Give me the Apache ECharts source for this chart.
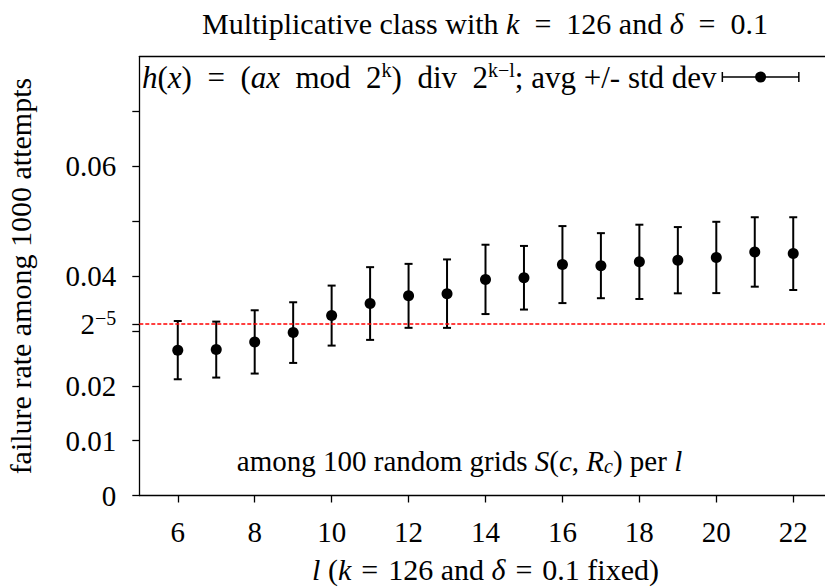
<!DOCTYPE html>
<html>
<head>
<meta charset="utf-8">
<script src="https://cdn.jsdelivr.net/npm/echarts@6/dist/echarts.min.js"></script>
<style>
html,body{margin:0;padding:0;background:#fff;}
#chart{width:825px;height:587px;}
</style>
</head>
<body>
<div id="chart"></div>
<script>
// ---- data ----
const lValues = [6, 7, 8, 9, 10, 11, 12, 13, 14, 15, 16, 17, 18, 19, 20, 21, 22];
const meanRate = [0.0265, 0.0266, 0.0280, 0.0297, 0.0328, 0.0350, 0.0364, 0.0368, 0.0394, 0.0397, 0.0421, 0.0419, 0.0426, 0.0429, 0.0434, 0.0444, 0.0441];
const stdDev = [0.00531, 0.00510, 0.00577, 0.00553, 0.00547, 0.00663, 0.00583, 0.00624, 0.00632, 0.00580, 0.00702, 0.00593, 0.00677, 0.00604, 0.00650, 0.00633, 0.00663];
const xTickValues = [6, 8, 10, 12, 14, 16, 18, 20, 22];
const yTickValues = [0, 0.01, 0.02, 0.03, 1 / 32, 0.04, 0.05, 0.06, 0.07];
const yLabelValues = [0, 0.01, 0.02, 1 / 32, 0.04, 0.06];
const thresholdValue = 1 / 32;

const FONT = '"Liberation Serif", "DejaVu Serif", serif';
const FS = 29;   // tick labels
const FT = 30;   // titles, notes
const FL = 31;   // legend
const SP = '\u2004';
const SE = '\u2002';
const points = lValues.map((l, i) => [l, meanRate[i], stdDev[i]]);

const chart = echarts.init(document.getElementById('chart'), null, {renderer: 'svg'});
const supStyle = {fontSize: 20, fontFamily: FONT, color: '#000', verticalAlign: 'top', lineHeight: 16};
const itStyle = {fontSize: FT, fontFamily: FONT, fontStyle: 'italic', color: '#000'};

chart.setOption({
  backgroundColor: '#fff',
  animation: false,
  title: {
    text: 'Multiplicative class with {i|k}' + SE + '=' + SE + '126 and {i|δ}' + SE + '=' + SE + '0.1',
    left: 485, top: 8, textAlign: 'center', padding: 0,
    textStyle: {fontSize: FT, fontWeight: 'normal', fontFamily: FONT, color: '#000', rich: {i: itStyle}}
  },
  legend: {
    left: 142, top: 60, padding: 0,
    align: 'right', itemWidth: 78, itemHeight: 12, itemGap: 0,
    selectedMode: false,
    data: [{name: 'avg', icon: 'path://M0,1h1.5v10h-1.5z M76.5,1h1.5v10h-1.5z M0,5.3h78v1.4h-78z M33.5,6a5.5,5.5 0 1,1 11,0a5.5,5.5 0 1,1 -11,0z'}],
    formatter: () => '{i|h}({i|x})' + SE + '=' + SE + '({i|ax}' + SE + 'mod' + SE + '2{s|k})' + SE + 'div' + SE + '2{s|k−l}; avg +/- std dev',
    textStyle: {fontSize: FL, fontFamily: FONT, color: '#000', lineHeight: 34,
      rich: {i: {fontSize: FL, fontFamily: FONT, fontStyle: 'italic', color: '#000', lineHeight: 34}, s: supStyle}}
  },
  grid: {left: 139.3, right: -6.7, top: 56.7, bottom: 91.5, containLabel: false, outerBoundsMode: 'none'},
  xAxis: [{
    type: 'value', min: 5, max: 23,
    name: '{i|l} ({i|k}' + SP + '=' + SP + '126 and {i|δ}' + SP + '=' + SP + '0.1 fixed)',
    nameLocation: 'middle', nameGap: 59,
    nameTextStyle: {fontSize: FT, fontFamily: FONT, color: '#000', rich: {i: itStyle}},
    axisLine: {show: true, onZero: false, lineStyle: {color: '#000', width: 1.3}},
    axisTick: {show: true, inside: false, length: 7, customValues: xTickValues, lineStyle: {color: '#000', width: 1.3}},
    axisLabel: {show: true, customValues: xTickValues, margin: 22, fontSize: FS, fontFamily: FONT, color: '#000'},
    splitLine: {show: false}
  }, {
    type: 'value', min: 5, max: 23, position: 'top',
    axisLine: {show: true, onZero: false, lineStyle: {color: '#000', width: 1.3}},
    axisTick: {show: false}, axisLabel: {show: false}, splitLine: {show: false}
  }],
  yAxis: {
    type: 'value', min: 0, max: 0.08,
    name: 'failure rate among 1000 attempts',
    nameLocation: 'middle', nameGap: 104,
    nameTextStyle: {fontSize: FT, fontFamily: FONT, color: '#000'},
    axisLine: {show: true, onZero: false, lineStyle: {color: '#000', width: 1.3}},
    axisTick: {show: true, inside: false, length: 7, customValues: yTickValues, lineStyle: {color: '#000', width: 1.3}},
    axisLabel: {
      show: true, customValues: yLabelValues, margin: 23, fontSize: FS, fontFamily: FONT, color: '#000',
      formatter: v => Math.abs(v - thresholdValue) < 1e-9 ? '{n|2}{s|−5}' : (v === 0 ? '0' : v.toFixed(2)),
      rich: {n: {fontSize: FS, fontFamily: FONT, color: '#000', lineHeight: 32}, s: supStyle}
    },
    splitLine: {show: false}
  },
  series: [{
    type: 'custom',
    name: 'errorbars',
    data: points,
    encode: {x: 0, y: 1},
    z: 2,
    renderItem: function (params, api) {
      const x = api.value(0), m = api.value(1), s = api.value(2);
      const top = api.coord([x, m + s]);
      const bot = api.coord([x, m - s]);
      const st = {stroke: '#000', lineWidth: 2};
      return {
        type: 'group',
        children: [
          {type: 'line', shape: {x1: top[0], y1: top[1], x2: bot[0], y2: bot[1]}, style: st},
          {type: 'line', shape: {x1: top[0] - 4, y1: top[1], x2: top[0] + 4, y2: top[1]}, style: st},
          {type: 'line', shape: {x1: bot[0] - 4, y1: bot[1], x2: bot[0] + 4, y2: bot[1]}, style: st}
        ]
      };
    }
  }, {
    type: 'scatter',
    name: 'avg',
    data: points.map(p => [p[0], p[1]]),
    symbol: 'circle', symbolSize: 11,
    itemStyle: {color: '#000', opacity: 1},
    z: 3,
    markLine: {
      silent: true, symbol: 'none', precision: 10,
      label: {show: false},
      lineStyle: {color: '#ff0000', type: [4, 2], width: 1.5, opacity: 1},
      data: [{yAxis: thresholdValue}]
    }
  }],
  graphic: [{
    type: 'text', x: 459.5, y: 461,
    style: {
      text: 'among 100 random grids {i|S}({i|c}, {i|R}{b|c}) per {i|l}',
      fontSize: 29, fontFamily: FONT, fill: '#000',
      textAlign: 'center', textVerticalAlign: 'middle',
      rich: {i: {fontSize: 29, fontFamily: FONT, fontStyle: 'italic', color: '#000'}, b: {fontSize: 20, fontFamily: FONT, fontStyle: 'italic', verticalAlign: 'bottom', lineHeight: 26}}
    }
  }]
});
</script>
</body>
</html>
